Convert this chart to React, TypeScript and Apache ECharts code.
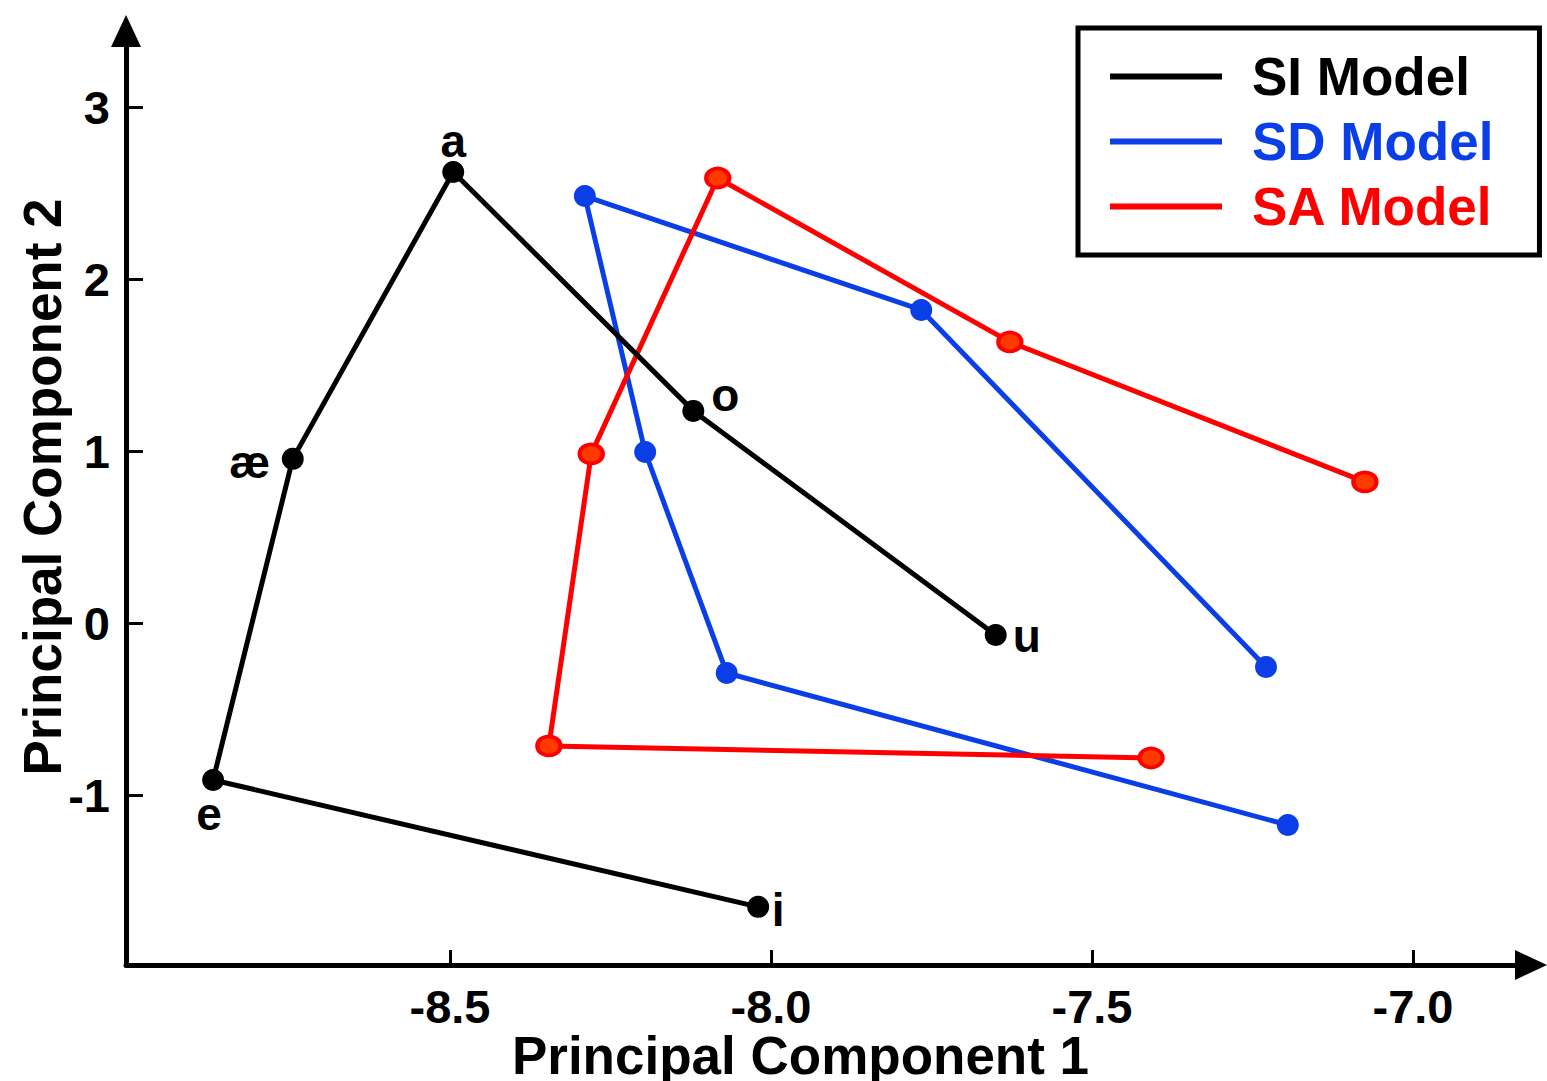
import React, { useEffect, useRef } from 'react';
import * as echarts from 'echarts';

const FONT = '"Liberation Sans", Arial, Helvetica, sans-serif';

const seriesNames = ['SI Model', 'SD Model', 'SA Model'];
const seriesColors = ['#000000', '#0a3fe8', '#ff0000'];
const vowelLabels = ['i', 'e', 'æ', 'a', 'o', 'u'];
const siX = [-8.02, -8.869, -8.745, -8.495, -8.121, -7.65];
const siY = [-1.647, -0.909, 0.958, 2.626, 1.237, -0.066];
const sdX = [-7.195, -8.069, -8.196, -8.29, -7.766, -7.229];
const sdY = [-1.171, -0.287, 0.998, 2.486, 1.824, -0.252];
const saX = [-7.408, -8.346, -8.28, -8.083, -7.628, -7.075];
const saY = [-0.781, -0.711, 0.987, 2.591, 1.638, 0.824];
const xTicks = [-8.5, -8.0, -7.5, -7.0];
const yTicks = [-1, 0, 1, 2, 3];

const labelOffsets: Record<string, [number, number]> = {
  i: [20, 3],
  e: [-4, 34],
  'æ': [-43, 3],
  a: [0, -31],
  o: [32, -16],
  u: [31, 1],
};

const boldText = { fontFamily: FONT, fontWeight: 'bold' as const, color: '#000' };

export default function App() {
  const ref = useRef<HTMLDivElement>(null);
  useEffect(() => {
    if (!ref.current) return;
    const chart = echarts.init(ref.current, null, { renderer: 'svg' });
    const option: any = {
      animation: false,
      backgroundColor: '#ffffff',
      grid: { left: 126, right: 16, top: 31, bottom: 116, containLabel: false, outerBoundsMode: 'none' },
      legend: {
        orient: 'vertical',
        left: 1078,
        top: 28,
        padding: [22, 46, 22, 32],
        borderColor: '#000',
        borderWidth: 5,
        itemWidth: 112,
        itemHeight: 6,
        itemGap: 12,
        icon: 'rect',
        itemStyle: { borderWidth: 0 },
        textStyle: { ...boldText, fontSize: 53, lineHeight: 52, padding: [0, 0, 0, 25] },
        data: seriesNames.map((n, i) => ({
          name: n,
          itemStyle: { color: seriesColors[i], borderWidth: 0 },
          textStyle: { color: seriesColors[i] },
        })),
      },
      xAxis: {
        type: 'value',
        min: -9.0047,
        max: -6.8162,
        name: 'Principal Component 1',
        nameLocation: 'middle',
        nameGap: 68,
        nameMoveOverlap: false,
        nameTextStyle: { ...boldText, fontSize: 53, lineHeight: 44, padding: [0, 56, 0, 0] },
        axisLine: {
          show: true,
          onZero: false,
          symbol: ['none', 'triangle'],
          symbolSize: [30, 32],
          lineStyle: { color: '#000', width: 5 },
        },
        axisTick: { show: true, inside: true, length: 15, customValues: xTicks, lineStyle: { color: '#000', width: 3 } },
        axisLabel: {
          ...boldText,
          fontSize: 47,
          lineHeight: 40,
          margin: 21,
          customValues: xTicks,
          formatter: (v: number) => v.toFixed(1),
        },
        splitLine: { show: false },
      },
      yAxis: {
        type: 'value',
        min: -1.985,
        max: 3.446,
        name: 'Principal Component 2',
        nameLocation: 'middle',
        nameGap: 57,
        nameMoveOverlap: false,
        nameTextStyle: { ...boldText, fontSize: 53, padding: [0, 0, 0, 22] },
        axisLine: {
          show: true,
          onZero: false,
          symbol: ['none', 'triangle'],
          symbolSize: [30, 32],
          lineStyle: { color: '#000', width: 5 },
        },
        axisTick: { show: true, inside: true, length: 17, customValues: yTicks, lineStyle: { color: '#000', width: 3 } },
        axisLabel: {
          ...boldText,
          fontSize: 47,
          margin: 16,
          customValues: yTicks,
          formatter: (v: number) => v.toFixed(0),
        },
        splitLine: { show: false },
      },
      series: [
        {
          name: seriesNames[0],
          type: 'line',
          symbol: 'circle',
          symbolSize: 22,
          showAllSymbol: true,
          lineStyle: { color: seriesColors[0], width: 5 },
          itemStyle: { color: seriesColors[0] },
          label: { ...boldText, fontSize: 46 },
          data: siX.map((x, i) => ({
            value: [x, siY[i]],
            label: {
              show: true,
              formatter: vowelLabels[i],
              position: 'inside',
              offset: labelOffsets[vowelLabels[i]],
            },
          })),
          z: 3,
        },
        {
          name: seriesNames[1],
          type: 'line',
          symbol: 'circle',
          symbolSize: 22,
          showAllSymbol: true,
          lineStyle: { color: seriesColors[1], width: 5 },
          itemStyle: { color: seriesColors[1] },
          data: sdX.map((x, i) => [x, sdY[i]]),
          z: 2,
        },
        {
          name: seriesNames[2],
          type: 'line',
          symbol: 'circle',
          symbolSize: [23, 19],
          showAllSymbol: true,
          lineStyle: { color: seriesColors[2], width: 5 },
          itemStyle: { color: '#ff3a00', borderColor: '#ff0000', borderWidth: 4 },
          data: saX.map((x, i) => [x, saY[i]]),
          z: 2,
        },
      ],
    };
    chart.setOption(option);
    return () => chart.dispose();
  }, []);
  return (
    <div
      ref={ref}
      style={{ position: 'absolute', left: 0, top: 0, width: 1547, height: 1081, background: '#fff' }}
    />
  );
}
